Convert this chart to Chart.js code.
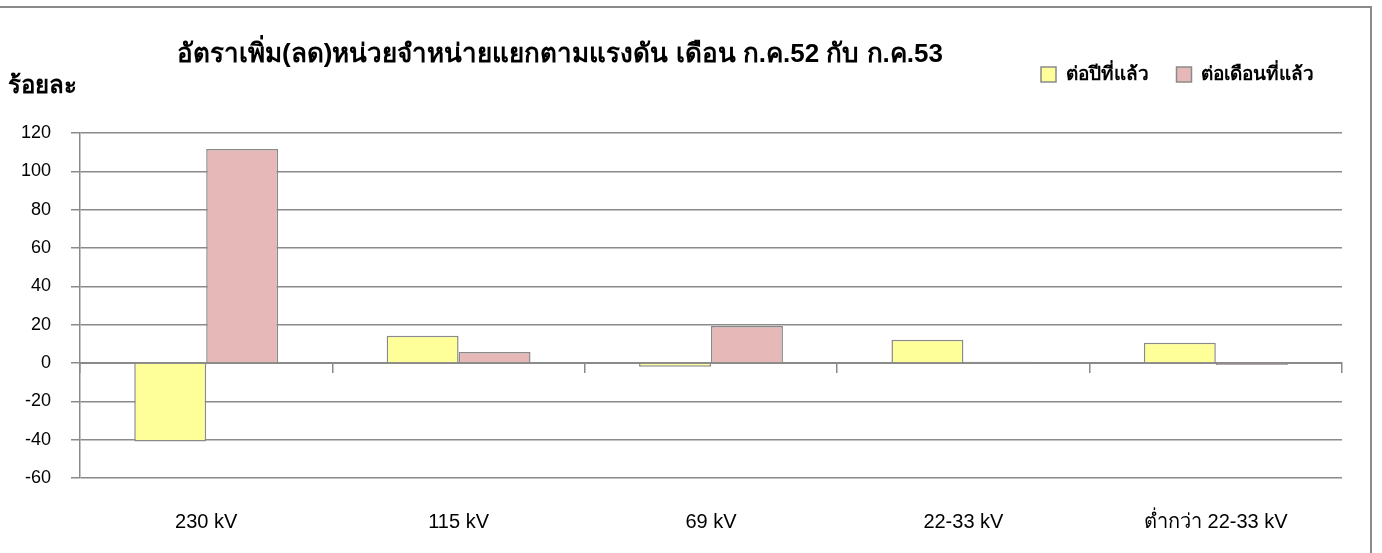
<!DOCTYPE html>
<html lang="th">
<head>
<meta charset="UTF-8">
<title>อัตราเพิ่ม(ลด)หน่วยจำหน่ายแยกตามแรงดัน</title>
<script src="https://cdn.jsdelivr.net/npm/chart.js@4.4.1/dist/chart.umd.min.js"></script>
<style>
  html, body { margin: 0; padding: 0; background: #fff; }
  #wrap { position: relative; width: 1382px; height: 553px; overflow: hidden; }
  #frame { position: absolute; left: 0; top: 6px; width: 1372px; height: 560px;
           border-top: 2px solid #8a8a8a; border-right: 2px solid #8a8a8a; box-sizing: border-box; }
  canvas { position: absolute; left: 0; top: 0; }
</style>
</head>
<body>
<div id="wrap">
  <div id="frame"></div>
  <canvas id="chart" width="1382" height="553"></canvas>
</div>
<script>
const categories = ['230 kV', '115 kV', '69 kV', '22-33 kV', 'ต่ำกว่า 22-33 kV'];
const perYear = [-41.0, 14.2, -1.9, 12.1, 10.6];
const perMonth = [111.7, 5.7, 19.3, 0.7, -1.0];
const seriesNames = ['ต่อปีที่แล้ว', 'ต่อเดือนที่แล้ว'];
const titleText = 'อัตราเพิ่ม(ลด)หน่วยจำหน่ายแยกตามแรงดัน เดือน ก.ค.52 กับ ก.ค.53';
const unitText = 'ร้อยละ';

const gray = '#8a8a8a';
const font = "'Liberation Sans', Arial, sans-serif";

// title and unit caption drawn on top of the canvas
const captions = {
  id: 'captions',
  afterDraw(chart) {
    const ctx = chart.ctx;
    ctx.save();
    ctx.fillStyle = '#000';
    ctx.textBaseline = 'middle';
    ctx.font = 'bold 26px ' + font;
    ctx.textAlign = 'center';
    ctx.fillText(titleText, 560, 55);
    ctx.font = 'bold 24px ' + font;
    ctx.textAlign = 'left';
    ctx.fillText(unitText, 8, 86);
    ctx.restore();
  }
};

// push the plot area down below the legend row
const legendGap = {
  id: 'legendGap',
  beforeInit(chart) {
    const fit = chart.legend.fit;
    chart.legend.fit = function () {
      fit.bind(chart.legend)();
      this.height += 39;
    };
  }
};

new Chart(document.getElementById('chart'), {
  type: 'bar',
  data: {
    labels: categories,
    datasets: [
      { label: seriesNames[0], data: perYear, backgroundColor: '#FFFF99', borderColor: gray, borderWidth: 1.5 },
      { label: seriesNames[1], data: perMonth, backgroundColor: '#E6B9B8', borderColor: gray, borderWidth: 1.5 }
    ]
  },
  options: {
    responsive: false,
    animation: false,
    layout: { padding: { top: 37, right: 40, bottom: 0, left: 0 } },
    categoryPercentage: 0.57,
    barPercentage: 1.0,
    plugins: {
      title: { display: false },
      tooltip: { enabled: false },
      legend: {
        position: 'top',
        align: 'end',
        labels: {
          color: '#000',
          font: { family: font, size: 19, weight: 'bold' },
          boxWidth: 15, boxHeight: 15, padding: 28
        }
      }
    },
    scales: {
      x: {
        grid: { display: false },
        border: { display: false },
        ticks: { color: '#000', font: { family: font, size: 20 }, padding: 24, maxRotation: 0 },
        afterFit(scale) { scale.height = 75; }
      },
      xZero: {
        type: 'category',
        position: { y: 0 },
        grid: { display: true, offset: true, drawOnChartArea: false, tickLength: 9, color: gray, lineWidth: 1.5 },
        border: { display: true, color: gray, width: 2 },
        ticks: { display: false }
      },
      y: {
        min: -60, max: 120,
        ticks: { stepSize: 20, color: '#000', font: { family: font, size: 18 }, padding: 20 },
        grid: { color: gray, lineWidth: 1.5, tickLength: 9 },
        border: { display: true, color: gray, width: 1.5 },
        afterFit(scale) { scale.width = 80; }
      }
    }
  },
  plugins: [captions, legendGap]
});
</script>
</body>
</html>
